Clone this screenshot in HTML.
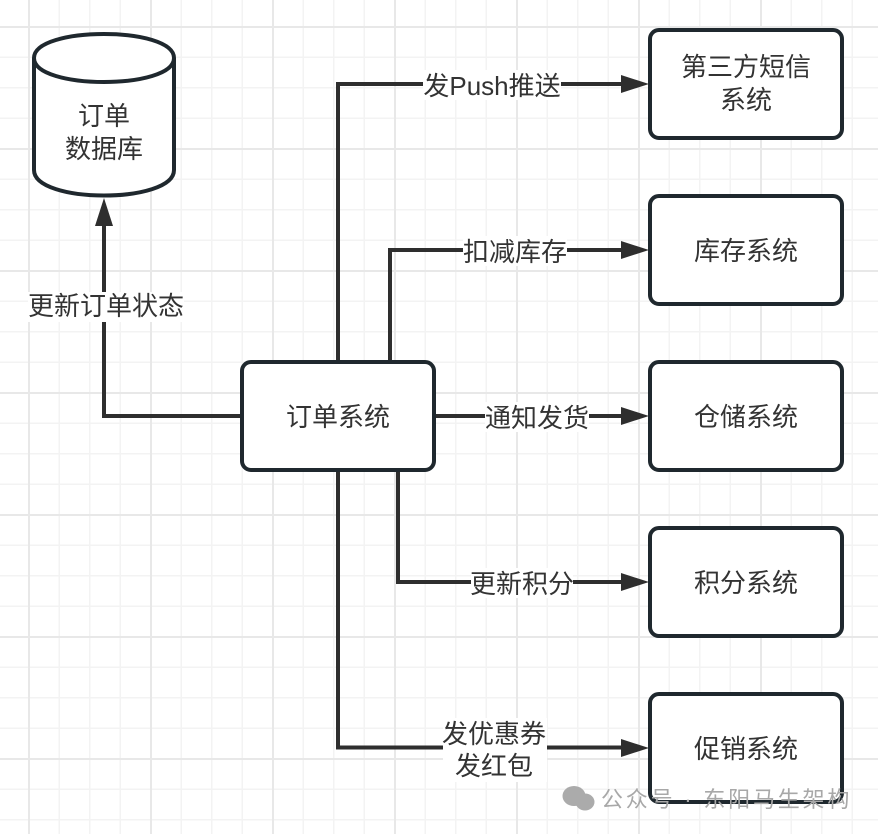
<!DOCTYPE html>
<html><head><meta charset="utf-8"><style>
html,body{margin:0;padding:0;background:#fff;width:878px;height:834px;overflow:hidden}
svg{display:block}
text{font-family:"Liberation Sans","Noto Sans CJK SC",sans-serif;font-size:26px;fill:#333;text-anchor:middle}
.w{font-size:22px;fill:#a8a8a8;text-anchor:start;letter-spacing:2.8px}
</style></head><body>
<svg width="878" height="834" viewBox="0 0 878 834" xmlns="http://www.w3.org/2000/svg">
<defs>
<pattern id="g" x="28" y="26" width="30.5" height="30.5" patternUnits="userSpaceOnUse">
<path d="M0.75 0V30.5M0 0.75H30.5" stroke="#f3f3f3" stroke-width="1.5" fill="none"/>
</pattern>
<pattern id="G" x="28" y="26" width="122" height="122" patternUnits="userSpaceOnUse">
<path d="M1 0V122M0 1H122" stroke="#e8e8e8" stroke-width="2" fill="none"/>
</pattern>
</defs>
<rect width="878" height="834" fill="#fff"/>
<rect width="878" height="834" fill="url(#g)"/>
<rect width="878" height="834" fill="url(#G)"/>
<g fill="none" stroke="#2e2e2e" stroke-width="4">
<path d="M242 416H104V224"/>
<path d="M338 362V84H625"/>
<path d="M390 362V250H625"/>
<path d="M434 416H625"/>
<path d="M398 470V582H625"/>
<path d="M338 470V747.5H625"/>
</g>
<g fill="#2e2e2e">
<path d="M104 198L113 226H95Z"/>
<path d="M649 84L621 75V93Z"/>
<path d="M649 250L621 241V259Z"/>
<path d="M649 416L621 407V425Z"/>
<path d="M649 582L621 573V591Z"/>
<path d="M649 748L621 739V757Z"/>
</g>
<g fill="#fff">
<rect x="28" y="292" width="156" height="30"/>
<rect x="423" y="70" width="138" height="30"/>
<rect x="463" y="236" width="104" height="30"/>
<rect x="485" y="402" width="104" height="30"/>
<rect x="471" y="568" width="102" height="30"/>
<rect x="443" y="718" width="104" height="64"/>
</g>
<g fill="#fff" stroke="#1f282e" stroke-width="4">
<path d="M34 58C34 26 174 26 174 58V170C174 204 34 204 34 170Z"/>
<path d="M34 58C34 90 174 90 174 58" fill="none"/>
<rect x="242" y="362" width="192" height="108" rx="9"/>
<rect x="650" y="30" width="192" height="108" rx="9"/>
<rect x="650" y="196" width="192" height="108" rx="9"/>
<rect x="650" y="362" width="192" height="108" rx="9"/>
<rect x="650" y="528" width="192" height="108" rx="9"/>
<rect x="650" y="694" width="192" height="108" rx="9"/>
</g>
<text x="104" y="125">订单</text>
<text x="104" y="158">数据库</text>
<text x="106" y="315">更新订单状态</text>
<text x="338" y="426">订单系统</text>
<text x="492" y="95">发Push推送</text>
<text x="515" y="261">扣减库存</text>
<text x="537" y="427">通知发货</text>
<text x="522" y="593">更新积分</text>
<text x="494" y="743">发优惠券</text>
<text x="494" y="775">发红包</text>
<text x="746" y="76">第三方短信</text>
<text x="746" y="109">系统</text>
<text x="746" y="260">库存系统</text>
<text x="746" y="426">仓储系统</text>
<text x="746" y="592">积分系统</text>
<text x="746" y="758">促销系统</text>
<g fill="#ababab">
<ellipse cx="574" cy="796" rx="11.5" ry="10"/>
<ellipse cx="585" cy="802" rx="9.5" ry="8.5"/>
</g>
<text class="w" x="601" y="807">公众号 · 东阳马生架构</text>
</svg>
</body></html>
